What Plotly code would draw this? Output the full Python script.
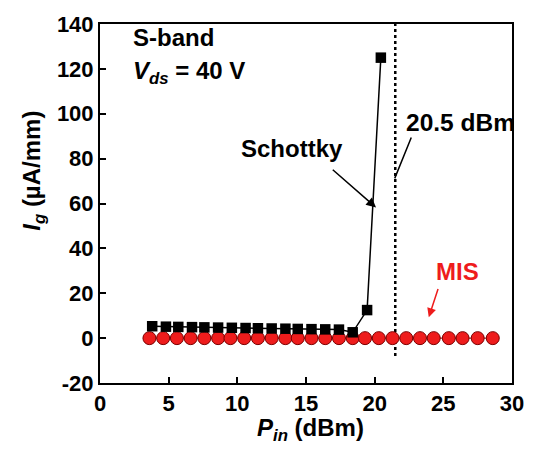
import plotly.graph_objects as go

# Data
schottky_x = [3.8, 4.8, 5.7, 6.7, 7.6, 8.6, 9.6, 10.6, 11.5, 12.5, 13.5, 14.4, 15.4, 16.4, 17.4, 18.4, 19.45, 20.45]
schottky_y = [5.3, 5.1, 5.0, 4.9, 4.8, 4.7, 4.6, 4.5, 4.4, 4.3, 4.2, 4.1, 4.0, 3.9, 3.8, 2.6, 12.5, 125.0]
mis_x = [3.6, 4.6, 5.6, 6.6, 7.6, 8.6, 9.5, 10.5, 11.5, 12.5, 13.5, 14.4, 15.4, 16.4, 17.4, 18.4, 19.3, 20.3,
         21.3, 22.3, 23.3, 24.3, 25.4, 26.4, 27.5, 28.6]
mis_y = [0.0] * 26
vline_x = [21.5, 21.5]
vline_y = [-8, 140]
x_ticks = [0, 5, 10, 15, 20, 25, 30]
x_ticklabels = ["0", "5", "10", "15", "20", "25", "30"]
y_ticks = [-20, 0, 20, 40, 60, 80, 100, 120, 140]
y_ticklabels = ["-20", "0", "20", "40", "60", "80", "100", "120", "140"]

FONT = "Liberation Sans, Arial, sans-serif"
TICKFONT = dict(size=22, family=FONT, color="black", weight="bold")

fig = go.Figure()
fig.add_trace(go.Scatter(x=vline_x, y=vline_y, mode="lines",
                         line=dict(color="black", width=2.5, dash="dot"), showlegend=False))
fig.add_trace(go.Scatter(x=mis_x, y=mis_y, mode="lines+markers",
                         line=dict(color="#8b0000", width=1),
                         marker=dict(symbol="circle", size=13, color="#ee1c1c",
                                     line=dict(color="#7a0000", width=1)),
                         showlegend=False))
fig.add_trace(go.Scatter(x=schottky_x, y=schottky_y, mode="lines+markers",
                         line=dict(color="black", width=1.5),
                         marker=dict(symbol="square", size=10.5, color="black"),
                         showlegend=False))

ann = []
ann.append(dict(x=2.28, y=134.0, text="<b>S-band</b>", showarrow=False, xanchor="left",
                font=dict(size=24, color="black", family=FONT)))
ann.append(dict(x=2.28, y=118.5, text="<b><i>V</i><sub><i>ds</i></sub> = 40 V</b>", showarrow=False,
                xanchor="left", font=dict(size=24, color="black", family=FONT)))
ann.append(dict(x=14.0, y=84.5, text="<b>Schottky</b>", showarrow=False,
                font=dict(size=24, color="black", family=FONT)))
ann.append(dict(x=20.1, y=58.2, ax=16.84, ay=75.6, axref="x", ayref="y", xref="x", yref="y",
                text="", showarrow=True, arrowhead=2, arrowsize=1.3, arrowwidth=1.5, arrowcolor="black"))
ann.append(dict(x=26.25, y=96.2, text="<b>20.5 dBm</b>", showarrow=False,
                font=dict(size=24.5, color="black", family=FONT)))
ann.append(dict(x=21.46, y=71.2, ax=22.71, ay=90.05, axref="x", ayref="y", xref="x", yref="y",
                text="", showarrow=True, arrowhead=0, arrowwidth=1.5, arrowcolor="black"))
ann.append(dict(x=26.0, y=29.9, text="<b>MIS</b>", showarrow=False,
                font=dict(size=24, color="#ee1c1c", family=FONT)))
ann.append(dict(x=23.94, y=9.3, ax=24.65, ay=22.56, axref="x", ayref="y", xref="x", yref="y",
                text="", showarrow=True, arrowhead=2, arrowsize=1.2, arrowwidth=1.5, arrowcolor="#ee1c1c"))
# axis titles
ann.append(dict(x=0.512, y=-0.129, xref="paper", yref="paper", xanchor="center", yanchor="middle",
                text="<b><i>P</i><sub><i>in</i></sub> (dBm)</b>", showarrow=False,
                font=dict(size=24, color="black", family=FONT)))
ann.append(dict(x=-0.162, y=0.592, xref="paper", yref="paper", xanchor="center", yanchor="middle",
                textangle=-90, text="<b><i>I</i><sub><i>g</i></sub> (µA/mm)</b>", showarrow=False,
                font=dict(size=24, color="black", family=FONT)))

fig.update_layout(
    width=536, height=450,
    margin=dict(l=100, r=14, t=21, b=67),
    plot_bgcolor="white", paper_bgcolor="white",
    font=dict(family=FONT, size=22, color="black"),
    annotations=ann,
    xaxis=dict(range=[0, 30], tickmode="array", tickvals=x_ticks,
               ticktext=["<b>" + t + "</b>" for t in x_ticklabels],
               showline=True, linecolor="black", linewidth=2, mirror=True,
               ticks="inside", ticklen=6, tickwidth=2, tickcolor="black",
               showgrid=False, zeroline=False, tickfont=TICKFONT),
    yaxis=dict(range=[-20, 140], tickmode="array", tickvals=y_ticks,
               ticktext=["<b>" + t + "</b>" for t in y_ticklabels],
               showline=True, linecolor="black", linewidth=2, mirror=True,
               ticks="inside", ticklen=6, tickwidth=2, tickcolor="black",
               showgrid=False, zeroline=False, tickfont=TICKFONT),
)

fig.write_html("out.html")
